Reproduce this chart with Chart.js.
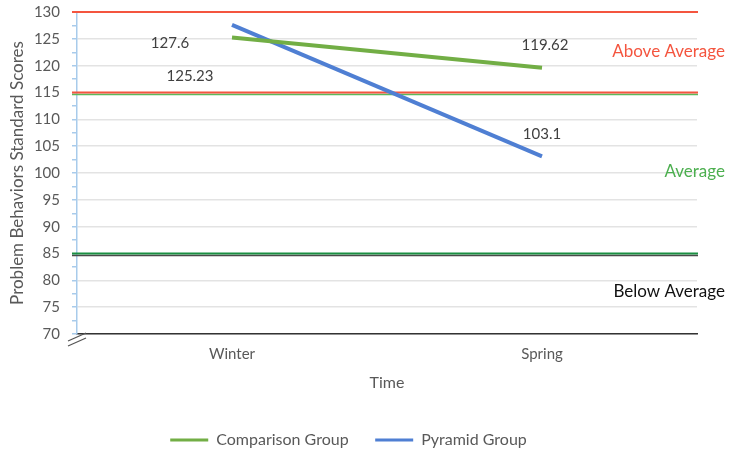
<!DOCTYPE html>
<html>
<head>
<meta charset="utf-8">
<script src="https://cdn.jsdelivr.net/npm/chart.js@4"></script>
<style>
  html, body { margin: 0; padding: 0; background: #fff; }
  #wrap { width: 739px; height: 452px; }
</style>
</head>
<body>
<div id="wrap"><canvas id="scoresChart" width="739" height="452"></canvas></div>
<script>
// datos del gráfico
const seasons = ['Winter', 'Spring'];
const comparisonScores = [125.23, 119.62];
const pyramidScores = [127.6, 103.1];
const seriesNames = ['Comparison Group', 'Pyramid Group'];

// límites de las bandas y sus etiquetas
const bandLimits = [130, 115, 85];
const bandNames = ['Above Average', 'Average', 'Below Average'];
const bandNameValues = [122.6, 100.2, 78];

const yMin = 70, yMax = 130, yStep = 2.5;

const green = '#72AE45';
const blue = '#4F7FD3';
const red = '#F4553F';
const grey = '#595959';
const font = 'Lato, "Open Sans", sans-serif';

// desplazamiento de las etiquetas respecto a cada punto (px)
const labelShift = {
    comparison: [[-42, 39], [3, -23]],
    pyramid: [[-62, 18], [0, -22]]
};

const bandsPlugin = {
    id: 'bands',
    beforeDatasetsDraw(chart) {
        const {ctx, chartArea} = chart;
        const y = chart.scales.y;
        const x0 = chartArea.left - 5, x1 = chartArea.right + 1;
        const line = (v, dy, color, w) => {
            const py = Math.round(y.getPixelForValue(v)) + dy;
            ctx.beginPath();
            ctx.strokeStyle = color;
            ctx.lineWidth = w;
            ctx.moveTo(x0, py);
            ctx.lineTo(x1, py);
            ctx.stroke();
        };
        ctx.save();
        line(bandLimits[0], 0, red, 2);
        line(bandLimits[1], 1.5, '#5DB85A', 1.5);
        line(bandLimits[1], -0.5, red, 2);
        line(bandLimits[2], 1.5, '#4a4a4a', 1.5);
        line(bandLimits[2], -0.5, '#1A8F42', 2);

        // marca de corte del eje
        ctx.strokeStyle = '#555';
        ctx.lineWidth = 1.2;
        const bx = chartArea.left, by = chartArea.bottom;
        [0, 5].forEach(d => {
            ctx.beginPath();
            ctx.moveTo(bx - 9, by + 7 + d);
            ctx.lineTo(bx + 9, by - 1 + d);
            ctx.stroke();
        });
        ctx.restore();
    },
    afterDatasetsDraw(chart) {
        const {ctx, chartArea} = chart;
        const y = chart.scales.y;
        ctx.save();
        ctx.font = '17px ' + font;
        ctx.textAlign = 'right';
        ctx.textBaseline = 'middle';
        const colors = [red, '#4CAF4F', '#111'];
        bandNames.forEach((name, i) => {
            ctx.fillStyle = colors[i];
            ctx.fillText(name, chartArea.right + 28, y.getPixelForValue(bandNameValues[i]));
        });

        // etiquetas de valores
        ctx.font = '15px ' + font;
        ctx.textAlign = 'center';
        ctx.fillStyle = '#404040';
        const keys = ['comparison', 'pyramid'];
        chart.data.datasets.forEach((ds, di) => {
            const meta = chart.getDatasetMeta(di);
            meta.data.forEach((pt, i) => {
                const s = labelShift[keys[di]][i];
                ctx.fillText(String(ds.data[i]), pt.x + s[0], pt.y + s[1]);
            });
        });
        ctx.restore();
    }
};

const ctx = document.getElementById('scoresChart').getContext('2d');
new Chart(ctx, {
    type: 'line',
    data: {
        labels: seasons,
        datasets: [{
            label: seriesNames[0],
            data: comparisonScores,
            borderColor: green,
            backgroundColor: green,
            borderWidth: 4,
            pointRadius: 0,
            tension: 0
        }, {
            label: seriesNames[1],
            data: pyramidScores,
            borderColor: blue,
            backgroundColor: blue,
            borderWidth: 4,
            pointRadius: 0,
            tension: 0
        }]
    },
    options: {
        responsive: false,
        animation: false,
        layout: { padding: { top: 12, right: 42, left: 0, bottom: -6 } },
        scales: {
            x: {
                offset: true,
                grid: { display: false, drawTicks: false },
                border: { color: '#333', width: 1.5 },
                ticks: { color: grey, padding: 11, font: { family: font, size: 15 } },
                title: {
                    display: true,
                    text: 'Time',
                    color: grey,
                    font: { family: font, size: 16 },
                    padding: { top: 0, bottom: 38 }
                },
                afterFit(scale) { scale.height = 96; }
            },
            y: {
                min: yMin,
                max: yMax,
                grid: {
                    color: c => (c.tick && c.tick.value % 5 === 0) ? '#E3E3E3' : 'rgba(0,0,0,0)',
                    tickColor: '#A8CBEB',
                    tickLength: 5,
                    lineWidth: 1.5
                },
                border: { color: '#A8CBEB', width: 1.5 },
                ticks: {
                    stepSize: yStep,
                    autoSkip: false,
                    padding: 12,
                    color: grey,
                    font: { family: font, size: 15 },
                    callback: v => (v % 5 === 0 ? v : '')
                },
                title: {
                    display: true,
                    text: 'Problem Behaviors Standard Scores',
                    color: grey,
                    font: { family: font, size: 17 },
                    padding: { top: 7, bottom: 0 }
                },
                afterFit(scale) {
                    scale.width = 77;
                    scale.paddingTop = 0;
                    scale.paddingBottom = 0;
                }
            }
        },
        plugins: {
            legend: {
                position: 'bottom',
                labels: {
                    color: grey,
                    font: { family: font, size: 16 },
                    boxWidth: 38,
                    boxHeight: 0,
                    padding: 2,
                    generateLabels(chart) {
                        const items = Chart.defaults.plugins.legend.labels.generateLabels(chart);
                        items.forEach((it, i) => {
                            if (i < items.length - 1) it.text = it.text + '      ';
                            it.lineWidth = 3;
                        });
                        return items;
                    }
                }
            },
            tooltip: { enabled: false }
        }
    },
    plugins: [bandsPlugin]
});
</script>
</body>
</html>
